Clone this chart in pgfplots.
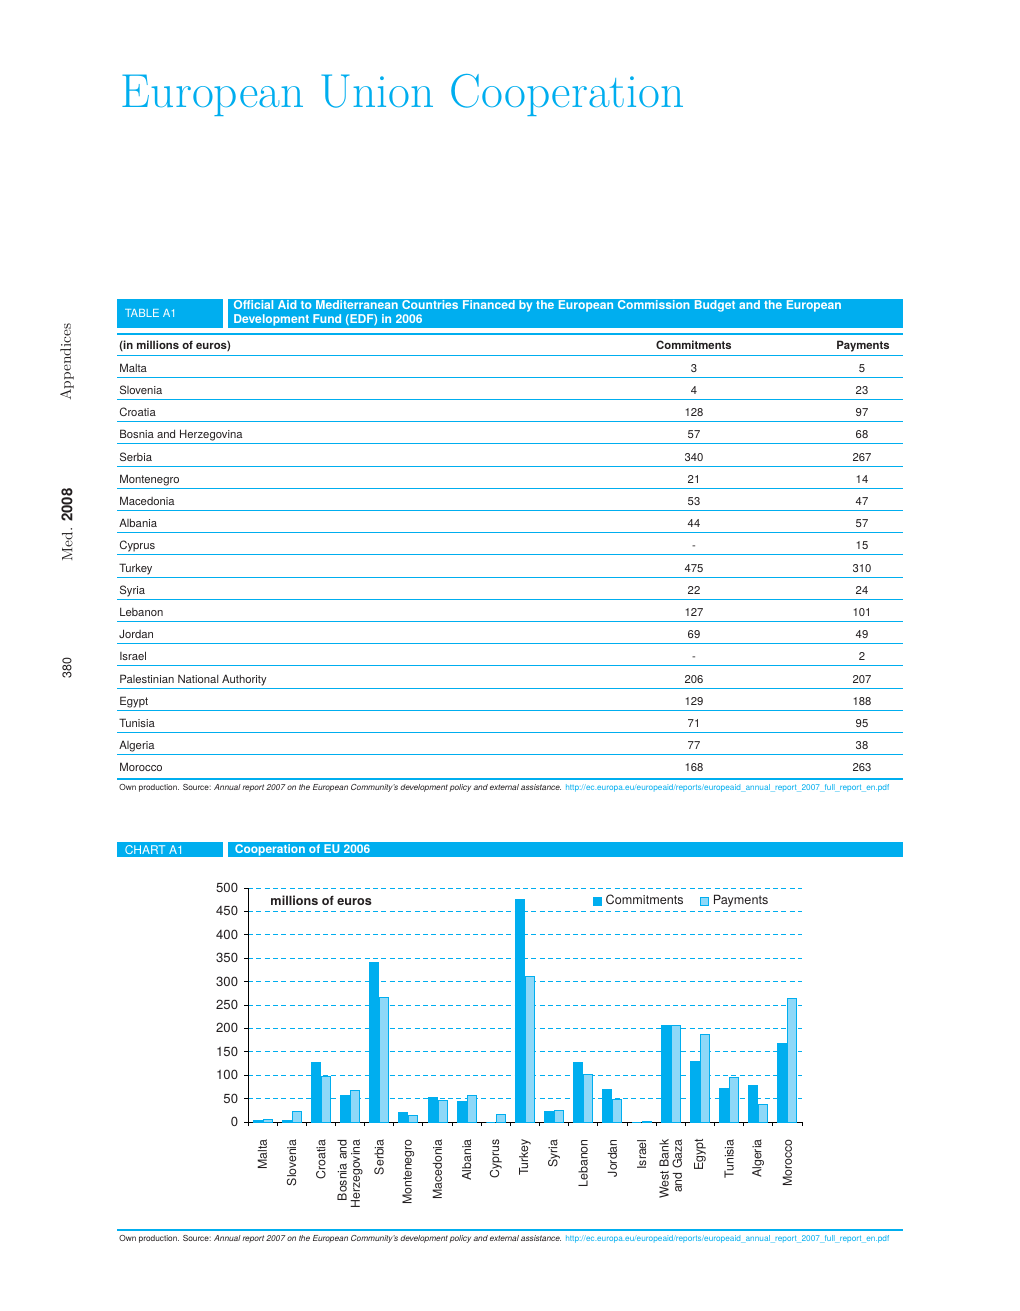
\documentclass[border=0pt]{standalone}
\usepackage{fontspec}
\setsansfont{TeX Gyre Heros}
\renewcommand{\familydefault}{\sfdefault}
\usepackage{graphicx}
\usepackage{pgfplots}
\pgfplotsset{compat=1.18}
\usepackage{pgfplotstable}
\definecolor{euc}{HTML}{00AEEF}
\definecolor{eul}{HTML}{8ED8F8}
\definecolor{ink}{HTML}{231F20}
\newcommand\fs[2]{\fontsize{#1}{#2}\selectfont}

% chart data (millions of euros), categories at 0..18
\pgfplotstableread{
idx commit pay
0   3    5
1   4    23
2   128  97
3   57   68
4   340  267
5   21   14
6   53   47
7   44   57
8   0    15
9   475  310
10  22   24
11  127  101
12  69   49
13  0    2
14  206  207
15  129  188
16  71   95
17  77   38
18  168  263
}\aid

\newcommand\source{\fs{6}{7}Own production. Source: \textit{Annual report 2007 on the European Community's development policy and external assistance.} \textcolor{euc}{http://ec.europa.eu/europeaid/reports/europeaid\_annual\_report\_2007\_full\_report\_en.pdf}}

\begin{document}
\begin{tikzpicture}[x=0.6pt,y=-0.6pt,every node/.append style={text=ink},
  cell/.style={inner sep=0pt, text height=1.5ex, text depth=0.3ex, font=\fs{6.8}{8}}]
\fill[white] (0,0) rectangle (1020,1311);

% page title and margin
\node[anchor=base west, text=euc, font=\rmfamily\fs{28.6}{32}] at (115,107) {European Union Cooperation};
\node[rotate=90, font=\rmfamily\fs{9}{10}] at (67,362) {Appendices};
\node[rotate=90, font=\fs{9}{10}] at (67,525) {{\rmfamily Med.} \textbf{2008}};
\node[rotate=90, font=\fs{7.5}{9}] at (67,668) {380};

% table A1
\fill[euc] (117,299) rectangle (223,328);
\fill[euc] (228,299) rectangle (903,328);
\node[anchor=west, text=white, font=\fs{6.8}{8}] at (119,313) {TABLE A1};
\node[anchor=west, inner sep=0pt, text=white, font=\fs{7.3}{8}\bfseries] at (233,306) {Official Aid to Mediterranean Countries Financed by the European Commission Budget and the European};
\node[anchor=west, inner sep=0pt, text=white, font=\fs{7.3}{8}\bfseries] at (233,320) {Development Fund (EDF) in 2006};
\draw[euc, line width=1.2pt] (117,334) -- (903,334);
\node[cell, anchor=west, font=\fs{6.8}{8}\bfseries] at (119,344) {(in millions of euros)};
\node[cell, font=\fs{6.8}{8}\bfseries] at (694,344) {Commitments};
\node[cell, anchor=east, font=\fs{6.8}{8}\bfseries] at (890,344) {Payments};
\draw[euc, line width=0.6pt] (117,355) -- (903,355);
\foreach \n/\c/\p [count=\i from 0] in {Malta/3/5, Slovenia/4/23, Croatia/128/97,
  Bosnia and Herzegovina/57/68, Serbia/340/267, Montenegro/21/14, Macedonia/53/47,
  Albania/44/57, Cyprus/-/15, Turkey/475/310, Syria/22/24, Lebanon/127/101,
  Jordan/69/49, Israel/-/2, Palestinian National Authority/206/207, Egypt/129/188,
  Tunisia/71/95, Algeria/77/38, Morocco/168/263} {
  \node[cell, anchor=west] at (119,367+22.2*\i) {\n};
  \node[cell] at (694,367+22.2*\i) {\c};
  \node[cell] at (862,367+22.2*\i) {\p};
  \ifnum\i<18
    \draw[euc, line width=0.6pt] (117,377.2+22.2*\i) -- (903,377.2+22.2*\i);
  \fi
}
\draw[euc, line width=1.2pt] (117,779) -- (903,779);
\node[anchor=west, inner sep=0] at (119,788) {\resizebox{462pt}{!}{\source}};

% chart A1
\fill[euc] (117,842) rectangle (223,857);
\fill[euc] (228,842) rectangle (903,857);
\node[anchor=west, text=white, font=\fs{7.2}{8}] at (119,850) {CHART A1};
\node[anchor=west, text=white, font=\fs{7.2}{8}\bfseries] at (229,850) {Cooperation of EU 2006};
\draw[euc, line width=1.2pt] (117,1230) -- (903,1230);
\node[anchor=west, inner sep=0] at (119,1239) {\resizebox{462pt}{!}{\source}};

\coordinate (O) at (248,1122);
\begin{scope}[x=1cm,y=1cm]
\begin{axis}[
  at={(O)}, anchor=south west,
  scale only axis, width=332.4pt, height=140.4pt,
  xmin=-0.5, xmax=18.5, ymin=0, ymax=500,
  ybar=0.6pt, bar width=5.4pt,
  axis x line*=bottom, axis y line*=left,
  axis line style={black, line width=0.6pt},
  xtick={0,...,18},
  xticklabels={Malta, Slovenia, Croatia, {Bosnia and\\Herzegovina}, Serbia, Montenegro,
    Macedonia, Albania, Cyprus, Turkey, Syria, Lebanon, Jordan, Israel,
    {West Bank\\and Gaza}, Egypt, Tunisia, Algeria, Morocco},
  minor xtick={-0.5,0.5,...,18.5},
  major x tick style={draw=none},
  minor x tick style={black, line width=0.6pt},
  tick align=outside,
  major tick length=2.4pt, minor tick length=2.4pt,
  ytick={0,50,...,500},
  y tick style={black, line width=0.6pt},
  ymajorgrids,
  major grid style={euc, dash pattern=on 3pt off 2pt, line width=0.5pt},
  x tick label style={rotate=90, anchor=east, align=right, font=\fs{7.4}{8}, xshift=-4.5pt},
  y tick label style={font=\fs{7.9}{9}},
  /pgf/number format/assume math mode=true,
  legend style={at={(0.955,0.944)}, anchor=east, draw=none, fill=none,
    legend columns=2, font=\fs{7.6}{9},
    /tikz/every even column/.append style={column sep=8pt}},
  legend image code/.code={\draw[#1] (0pt,-2.4pt) rectangle (4.8pt,2.4pt);},
  clip=false,
]
\addplot[fill=euc, draw=euc, line width=0.6pt] table[x=idx, y=commit] {\aid};
\addplot[fill=eul, draw=euc, line width=0.6pt] table[x=idx, y=pay] {\aid};
\legend{Commitments, Payments}
\node[anchor=west, inner sep=0pt, font=\fs{7.6}{9}\bfseries] at (rel axis cs:0.04,0.944) {millions of euros};
\end{axis}
\end{scope}
\end{tikzpicture}
\end{document}
